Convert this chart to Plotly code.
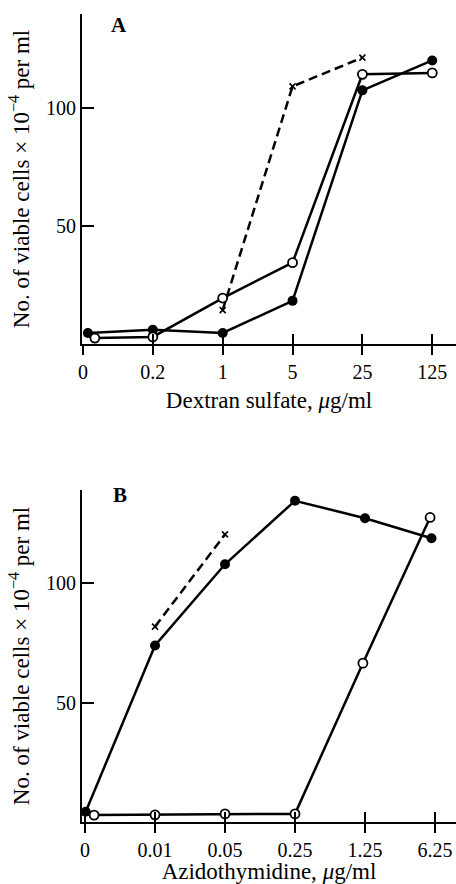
import plotly.graph_objects as go

# ---------------- data ----------------
cats_a = ["0", "0.2", "1", "5", "25", "125"]
a_filled_x = [0.07, 1, 2, 3, 4, 5]
a_filled_y = [4.7, 6.0, 4.7, 18.3, 107.6, 120.3]
a_open_x = [0.17, 1, 2, 3, 4, 5]
a_open_y = [2.5, 3.0, 19.5, 34.5, 114.4, 115.0]
a_cross_x = [2, 3, 4]
a_cross_y = [14.4, 109.3, 121.5]

cats_b = ["0", "0.01", "0.05", "0.25", "1.25", "6.25"]
b_filled_x = [0.01, 1, 2, 3, 4, 4.95]
b_filled_y = [4.3, 73.9, 107.9, 134.5, 127.2, 118.8]
b_open_x = [0.13, 1, 2, 3, 3.97, 4.93]
b_open_y = [2.9, 3.0, 3.4, 3.4, 66.5, 127.5]
b_cross_x = [1, 2]
b_cross_y = [81.8, 120.4]

yticks = [50, 100]

FONT = "Liberation Serif"
W, H = 456, 884

fig = go.Figure()


def add_panel(xa, ya, fx, fy, ox, oy, cx, cy):
    line = dict(color="black", width=2.5)
    fig.add_trace(go.Scatter(x=cx, y=cy, xaxis=xa, yaxis=ya, mode="lines+markers",
                             line=dict(color="black", width=2.5, dash="9px,5px"),
                             marker=dict(symbol="x-thin", size=6, line=dict(color="black", width=1.6)),
                             showlegend=False))
    fig.add_trace(go.Scatter(x=fx, y=fy, xaxis=xa, yaxis=ya, mode="lines+markers",
                             line=line,
                             marker=dict(symbol="circle", size=10, color="black"),
                             showlegend=False))
    fig.add_trace(go.Scatter(x=ox, y=oy, xaxis=xa, yaxis=ya, mode="lines+markers",
                             line=line,
                             marker=dict(symbol="circle", size=9, color="white",
                                         line=dict(color="black", width=1.8)),
                             showlegend=False))


add_panel("x", "y", a_filled_x, a_filled_y, a_open_x, a_open_y, a_cross_x, a_cross_y)
add_panel("x2", "y2", b_filled_x, b_filled_y, b_open_x, b_open_y, b_cross_x, b_cross_y)
# empty traces so the overlay (inner tick) axes get drawn
fig.add_trace(go.Scatter(x=[None], y=[None], xaxis="x3", yaxis="y", showlegend=False, hoverinfo="skip"))
fig.add_trace(go.Scatter(x=[None], y=[None], xaxis="x4", yaxis="y2", showlegend=False, hoverinfo="skip"))

xdom = [82 / W, 1.0]
ydom_a = [1 - 344 / H, 1 - 14 / H]
ydom_b = [1 - 822 / H, 1 - 490 / H]

tickfont = dict(family=FONT, size=20, color="black")
titlefont = dict(family=FONT, size=23, color="black")
ytitlefont = dict(family=FONT, size=23, color="black")
ytitle = "No. of viable cells × 10<sup>−4</sup> per ml"


def xaxis_main(cats, rng, title, anchor):
    return dict(domain=xdom, range=rng, anchor=anchor, automargin=False,
                tickmode="array", tickvals=list(range(len(cats))), ticktext=cats,
                ticks="outside", ticklen=9, tickwidth=2, tickcolor="black",
                showline=True, linecolor="black", linewidth=2,
                showgrid=False, zeroline=False, tickfont=tickfont,
                title=dict(text=title, font=titlefont, standoff=10))


def xaxis_inner(cats, rng, over, anchor):
    return dict(domain=xdom, range=rng, overlaying=over, anchor=anchor, automargin=False,
                tickmode="array", tickvals=list(range(len(cats))),
                ticks="inside", ticklen=10, tickwidth=2, tickcolor="black",
                showticklabels=False, showline=False, showgrid=False, zeroline=False)


def yaxis_main(dom, rng, anchor):
    return dict(domain=dom, range=rng, anchor=anchor, automargin=False,
                tickmode="array", tickvals=yticks,
                ticks="inside", ticklen=12, tickwidth=2, tickcolor="black",
                showline=True, linecolor="black", linewidth=2,
                showgrid=False, zeroline=False, tickfont=tickfont,
                title=dict(text=ytitle, font=ytitlefont, standoff=10))


rng_xa = [-0.014, 5.34]
rng_xb = [-0.043, 5.30]

fig.update_layout(
    width=W, height=H,
    margin=dict(l=0, r=0, t=0, b=0, autoexpand=False),
    paper_bgcolor="white", plot_bgcolor="white",
    font=dict(family=FONT, color="black"),
    xaxis=xaxis_main(cats_a, rng_xa, "Dextran sulfate, <i>μ</i>g/ml", "y"),
    yaxis=yaxis_main(ydom_a, [0, 140], "x"),
    xaxis2=xaxis_main(cats_b, rng_xb, "Azidothymidine, <i>μ</i>g/ml", "y2"),
    yaxis2=yaxis_main(ydom_b, [0, 139], "x2"),
    xaxis3=xaxis_inner(cats_a, rng_xa, "x", "y"),
    xaxis4=xaxis_inner(cats_b, rng_xb, "x2", "y2"),
    annotations=[
        dict(text="<b>A</b>", x=119 / W, y=1 - 25 / H, xref="paper", yref="paper",
             xanchor="center", yanchor="middle",
             showarrow=False, font=dict(family=FONT, size=21, color="black")),
        dict(text="<b>B</b>", x=120 / W, y=1 - 495 / H, xref="paper", yref="paper",
             xanchor="center", yanchor="middle",
             showarrow=False, font=dict(family=FONT, size=21, color="black")),
    ],
)

fig.write_html("out.html",
               config={"displayModeBar": False},
               post_script="document.body.style.margin='0';document.body.style.overflow='hidden';")
